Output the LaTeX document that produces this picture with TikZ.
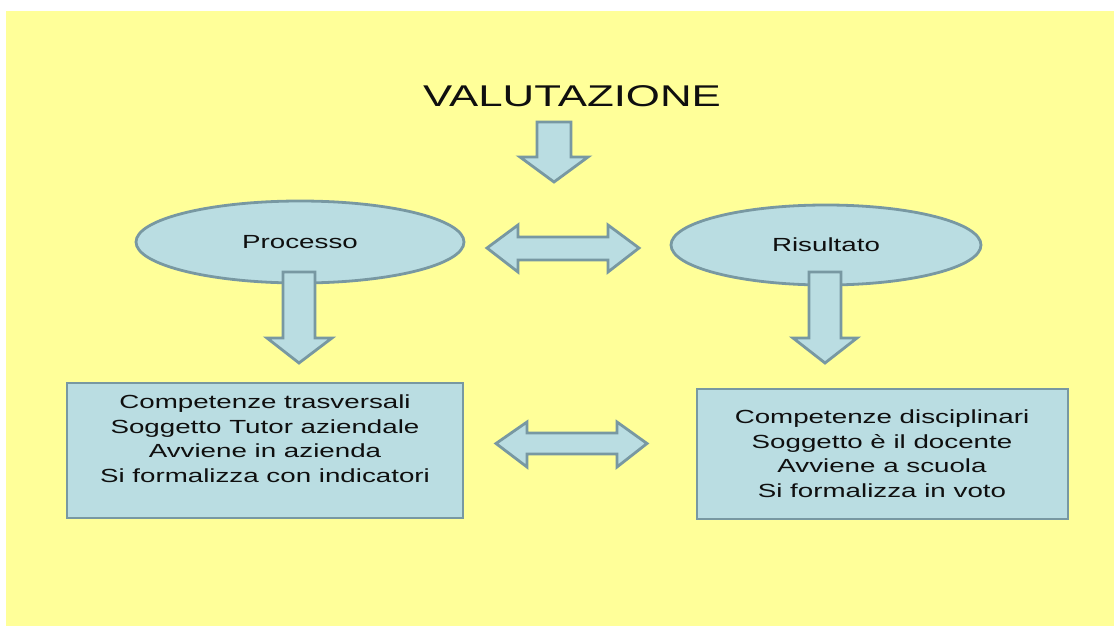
\documentclass[tikz,border=0pt]{standalone}
\usepackage{fontspec}
\setmainfont{Liberation Sans}
\usepackage{graphicx}
\usetikzlibrary{shapes.geometric}
\definecolor{bgyellow}{RGB}{255,255,153}
\definecolor{shapefill}{RGB}{186,221,226}
\definecolor{shapeline}{RGB}{120,152,162}
\definecolor{txt}{RGB}{15,15,15}
\newcommand{\widetxt}[1]{\scalebox{1.46}[1]{#1}}
\begin{document}
\begin{tikzpicture}[x=1pt,y=-1pt,
  shapestyle/.style={fill=shapefill, draw=shapeline, line width=2.8pt, line join=miter},
  bubble/.style={shapestyle, ellipse, inner sep=0pt},
  boxstyle/.style={shapestyle, rectangle, inner sep=0pt},
  blockarrow/.style={shapestyle},
  bodytext/.style={text=txt, font=\fontsize{19}{24.8}\selectfont, align=center, inner sep=0pt},
  titletext/.style={text=txt, font=\fontsize{30}{36}\selectfont, inner sep=0pt},
]
\useasboundingbox (0,0) rectangle (1114,626);
\fill[white] (0,0) rectangle (1114,626);
\fill[bgyellow] (6,11) rectangle (1114,626);

% title
\node[titletext] (title) at (572,96) {\scalebox{1.46}[1]{VALUTAZIONE}};

% ellipses
\node[bubble, minimum width=328pt, minimum height=82pt] (proc) at (300,242) {};
\node[bodytext] (proctext) at (proc.center) {\widetxt{Processo}};
\node[bubble, minimum width=310pt, minimum height=80pt] (ris) at (826,245) {};
\node[bodytext] (ristext) at (ris.center) {\widetxt{Risultato}};

% boxes
\node[boxstyle, minimum width=396pt, minimum height=135pt] (lbox) at (265,450.5) {};
\node[bodytext] (lboxtext) at (265,440.5) {\widetxt{\begin{tabular}{@{}c@{}}Competenze trasversali\\Soggetto Tutor aziendale\\Avviene in azienda\\Si formalizza con indicatori\end{tabular}}};
\node[boxstyle, minimum width=371pt, minimum height=130pt] (rbox) at (882.5,454) {};
\node[bodytext] (rboxtext) at (882,455.5) {\widetxt{\begin{tabular}{@{}c@{}}Competenze disciplinari\\Soggetto è il docente\\Avviene a scuola\\Si formalizza in voto\end{tabular}}};

% down arrow under title
\draw[blockarrow] (537,122) -- (571,122) -- (571,157) -- (588,157) -- (554,182) -- (520,157) -- (537,157) -- cycle;
% down arrow from Processo
\draw[blockarrow] (283,272) -- (315,272) -- (315,338) -- (332,338) -- (299,363) -- (267,338) -- (283,338) -- cycle;
% down arrow from Risultato
\draw[blockarrow] (809,272) -- (841,272) -- (841,338) -- (857,338) -- (825,363) -- (793,338) -- (809,338) -- cycle;

% double arrow between ellipses
\draw[blockarrow] (487,248) -- (518,225) -- (518,237) -- (608,237) -- (608,225) -- (639,248) -- (608,272) -- (608,260) -- (518,260) -- (518,272) -- cycle;
% double arrow between boxes
\draw[blockarrow] (496,443.5) -- (527,422) -- (527,433) -- (617,433) -- (617,422) -- (647,443.5) -- (617,467) -- (617,454) -- (527,454) -- (527,467) -- cycle;
\end{tikzpicture}
\end{document}
